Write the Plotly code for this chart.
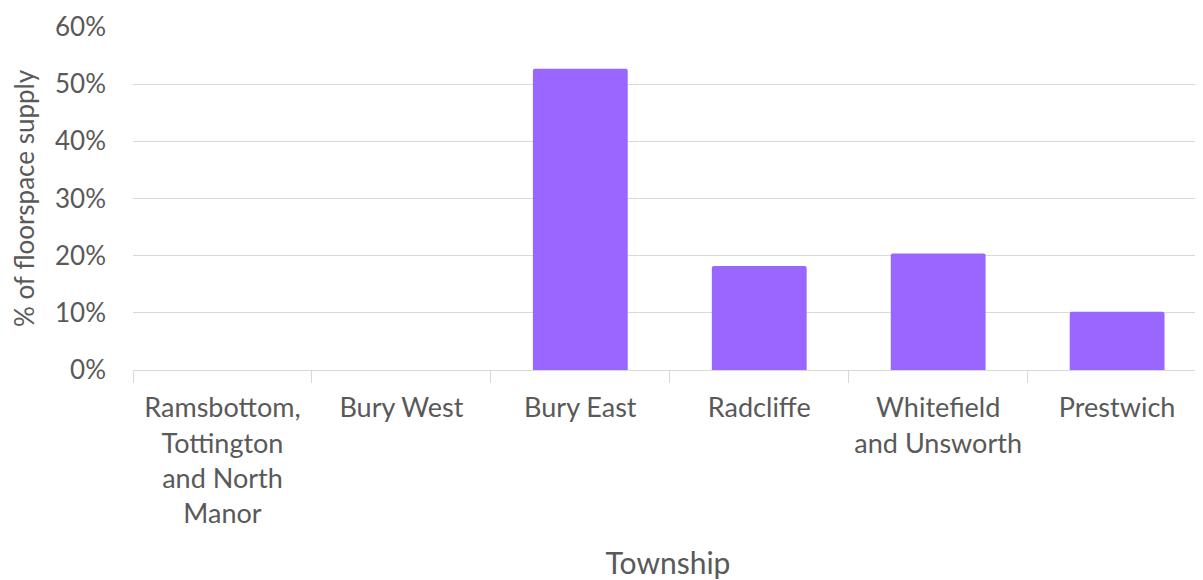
import plotly.graph_objects as go

townships = ["Ramsbottom,<br>Tottington<br>and North<br>Manor", "Bury West", "Bury East",
             "Radcliffe", "Whitefield<br>and Unsworth", "Prestwich"]
share = [0.0, 0.0, 0.527, 0.182, 0.204, 0.102]
y_ticks = [0, 0.1, 0.2, 0.3, 0.4, 0.5, 0.6]
y_tick_labels = ["0%", "10%", "20%", "30%", "40%", "50%", "60%"]

FONT = "Lato"
GREY = "#595959"
GRID = "#d9d9d9"

fig = go.Figure(go.Bar(
    x=townships, y=share,
    marker=dict(color="#9966ff", line=dict(width=0), cornerradius=2),
    hoverinfo="skip",
))

fig.update_layout(
    width=1195, height=572,
    margin=dict(l=125, r=0, t=19, b=210),
    paper_bgcolor="white", plot_bgcolor="white",
    bargap=0.47,
    showlegend=False,
    font=dict(family=FONT, color=GREY, size=26),
)

fig.update_xaxes(
    range=[-0.5, 5.48],
    showgrid=False,
    showline=True, linecolor=GRID, linewidth=1,
    ticks="outside", tickson="boundaries", ticklen=12, tickcolor=GRID,
    ticklabelstandoff=14,
    tickfont=dict(family=FONT, size=27, color=GREY),
    title=dict(text="Township", font=dict(family=FONT, size=30, color=GREY), standoff=28),
    automargin=False,
)

fig.update_yaxes(
    range=[0, 0.6],
    tickvals=y_ticks, ticktext=y_tick_labels,
    showgrid=True, gridcolor=GRID, gridwidth=1,
    zeroline=False, showline=False,
    ticks="", ticklabelstandoff=26, ticklabeloverflow="allow",
    tickfont=dict(family=FONT, size=26, color=GREY),
    title=dict(text="% of floorspace supply", font=dict(family=FONT, size=26, color=GREY), standoff=14),
    automargin=False,
)

fig.write_html("out.html")
